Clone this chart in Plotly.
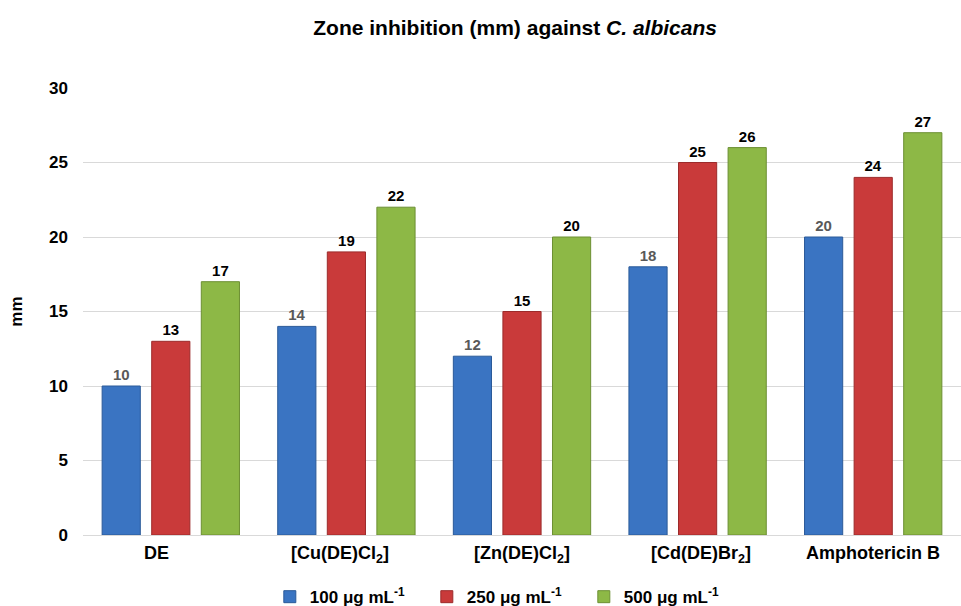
import plotly.graph_objects as go

categories = ["DE", "[Cu(DE)Cl<sub>2</sub>]", "[Zn(DE)Cl<sub>2</sub>]", "[Cd(DE)Br<sub>2</sub>]", "Amphotericin B"]
series_names = ["100 μg mL<sup>-1</sup>", "250 μg mL<sup>-1</sup>", "500 μg mL<sup>-1</sup>"]
v100 = [10, 14, 12, 18, 20]
v250 = [13, 19, 15, 25, 24]
v500 = [17, 22, 20, 26, 27]
y_ticks = [0, 5, 10, 15, 20, 25, 30]

colors = ["#3A74C2", "#C93A3A", "#8DB846"]
edge = ["#2B5A99", "#9C2B2B", "#6C8F33"]
label_colors = ["#595959", "#000000", "#000000"]
label_shift = [-14, -6, 0, 3, 0]

FONT = "Liberation Sans, Arial, sans-serif"

fig = go.Figure()
xs = list(range(len(categories)))
for name, vals, c, e, lc in zip(series_names, [v100, v250, v500], colors, edge, label_colors):
    fig.add_trace(go.Bar(
        x=xs, y=vals, name=name,
        marker=dict(color=c, line=dict(color=e, width=1)),
        text=[str(v) for v in vals], textposition="outside",
        textfont=dict(family=FONT, size=15, color=lc, weight="bold"),
        cliponaxis=False,
    ))

for i, (cat, sh) in enumerate(zip(categories, label_shift)):
    fig.add_annotation(x=i, y=0, xref="x", yref="paper", yanchor="top", yshift=-6,
                       xshift=sh, text="<b>%s</b>" % cat, showarrow=False,
                       font=dict(family=FONT, size=18, color="#000000", weight="bold"))

fig.update_layout(
    width=961, height=606,
    margin=dict(l=83, r=0, t=88, b=71, autoexpand=False),
    paper_bgcolor="white", plot_bgcolor="white",
    barmode="group", bargap=0.153, bargroupgap=0.23,
    title=dict(text="<b>Zone inhibition (mm) against <i>C. albicans</i></b>",
               x=0.536, xanchor="center", y=0.955, yanchor="middle",
               font=dict(family=FONT, size=21, color="#000000")),
    font=dict(family=FONT, color="#000000"),
    xaxis=dict(range=[-0.5, 4.5], showticklabels=False, showgrid=False, zeroline=False,
               showline=True, linecolor="#D9D9D9", linewidth=1, ticks=""),
    yaxis=dict(range=[0, 30], tickvals=y_ticks, showgrid=True, gridcolor="#D9D9D9", gridwidth=1,
               zeroline=False, showline=False, ticks="", ticklen=0,
               tickfont=dict(family=FONT, size=17, color="#000000", weight="bold"),
               ticklabelstandoff=14,
               title=dict(text="<b>mm</b>", font=dict(family=FONT, size=17, color="#000000"), standoff=22)),
    legend=dict(orientation="h", x=0.481, xanchor="center", y=-0.139, yanchor="middle",
                font=dict(family=FONT, size=17, color="#000000", weight="bold"),
                itemwidth=30, entrywidth=112, traceorder="normal"),
    showlegend=True,
)

fig.write_html("out.html")
